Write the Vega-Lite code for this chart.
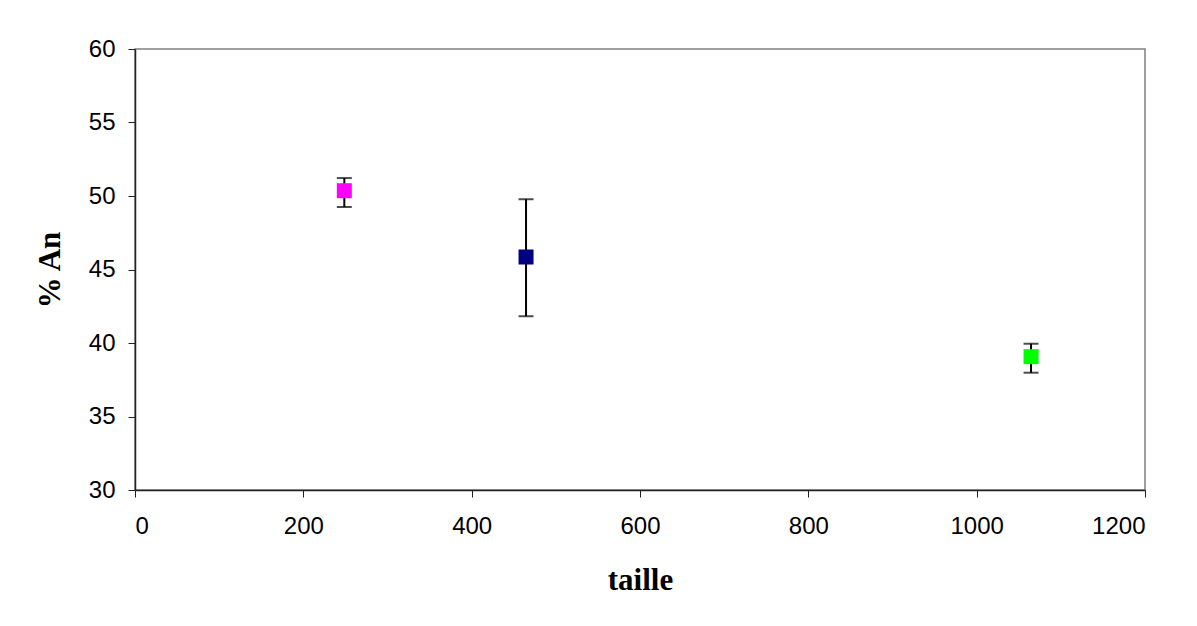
{
  "$schema": "https://vega.github.io/schema/vega-lite/v6.json",
  "autosize": {"type": "none"},
  "width": 1010,
  "height": 441,
  "padding": {"left": 135, "top": 49, "right": 52, "bottom": 136},
  "background": "white",
  "config": {
    "view": {"stroke": "#808080", "strokeWidth": 1.5},
    "axis": {
      "grid": false,
      "domainColor": "#222222",
      "domainWidth": 1.5,
      "tickColor": "#222222",
      "tickSize": 7,
      "labelFont": "Liberation Sans",
      "labelFontSize": 24,
      "labelColor": "black",
      "titleFont": "Liberation Serif",
      "titleFontSize": 31,
      "titleFontWeight": "bold",
      "titleColor": "black"
    }
  },
  "data": {
    "values": [
      {"serie": "a", "taille": 248.7, "an": 50.36, "lo": 49.25, "hi": 51.22},
      {"serie": "b", "taille": 464.6, "an": 45.85, "lo": 41.82, "hi": 49.78},
      {"serie": "c", "taille": 1064.6, "an": 39.07, "lo": 37.98, "hi": 39.95}
    ]
  },
  "encoding": {
    "x": {
      "field": "taille", "type": "quantitative",
      "scale": {"domain": [0, 1200], "nice": false, "zero": false},
      "axis": {"title": "taille", "format": "d", "values": [0, 200, 400, 600, 800, 1000, 1200], "labelPadding": 17, "titlePadding": 27}
    }
  },
  "layer": [
    {
      "mark": {"type": "rule", "color": "black", "strokeWidth": 2},
      "encoding": {
        "y": {
          "field": "lo", "type": "quantitative",
          "scale": {"domain": [30, 60], "nice": false, "zero": false},
          "axis": {"title": "% An", "format": "d", "values": [30, 35, 40, 45, 50, 55, 60], "labelPadding": 13, "titlePadding": 22}
        },
        "y2": {"field": "hi"}
      }
    },
    {
      "mark": {"type": "tick", "orient": "horizontal", "color": "black", "thickness": 2, "size": 15},
      "encoding": {"y": {"field": "lo", "type": "quantitative"}}
    },
    {
      "mark": {"type": "tick", "orient": "horizontal", "color": "black", "thickness": 2, "size": 15},
      "encoding": {"y": {"field": "hi", "type": "quantitative"}}
    },
    {
      "mark": {"type": "point", "shape": "square", "filled": true, "opacity": 1},
      "encoding": {
        "y": {"field": "an", "type": "quantitative"},
        "color": {"field": "serie", "type": "nominal", "scale": {"domain": ["a", "b", "c"], "range": ["#FF00FF", "#000080", "#00FF00"]}, "legend": null},
        "size": {"field": "serie", "type": "nominal", "scale": {"domain": ["a", "b", "c"], "range": [225, 225, 144]}, "legend": null}
      }
    }
  ]
}
